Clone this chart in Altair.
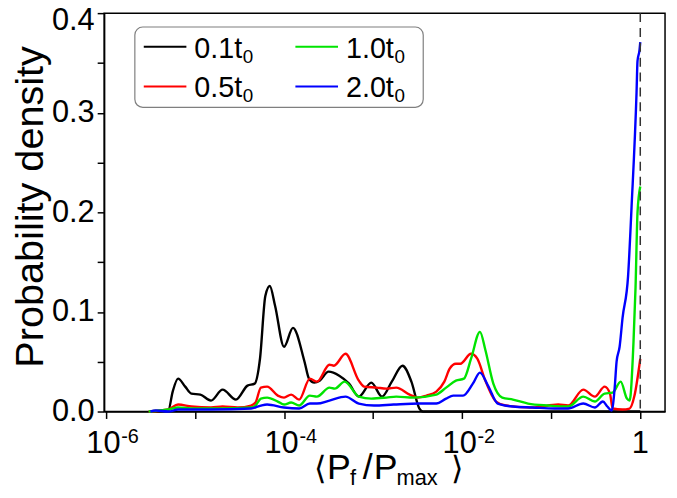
import altair as alt
import pandas as pd

FONT = "Liberation Sans"

series_values = ["0.1", "0.5", "1.0", "2.0"]
series_names = [v + "t₀" for v in series_values]
series_colors = ["#000000", "#ff0000", "#00e400", "#0000ff"]

# x values are log10(<Pf/Pmax>), y values are probability density
black_logx = [-5.50, -5.30, -5.25, -5.19, -5.11, -5.04, -4.94, -4.82, -4.69, -4.54, -4.41, -4.33,
              -4.27, -4.21, -4.16, -4.10, -4.00, -3.90, -3.77, -3.72, -3.66, -3.60, -3.50, -3.38,
              -3.27, -3.16, -3.02, -2.90, -2.79, -2.67, -2.57, -2.48, -2.44, -1.5, -0.5, 0.0]
black_y = [0.0, 0.001, 0.020, 0.033, 0.025, 0.018, 0.017, 0.011, 0.022, 0.012, 0.026, 0.028,
           0.053, 0.116, 0.126, 0.106, 0.065, 0.084, 0.050, 0.033, 0.029, 0.031, 0.040, 0.036,
           0.028, 0.015, 0.029, 0.015, 0.030, 0.046, 0.030, 0.003, 0.0, 0.0, 0.0, 0.0]

red_logx = [-5.52, -5.30, -5.19, -5.04, -4.82, -4.69, -4.52, -4.37, -4.32, -4.26, -4.19, -4.07,
            -4.00, -3.92, -3.83, -3.71, -3.63, -3.49, -3.44, -3.31, -3.16, -3.10, -2.96, -2.85,
            -2.74, -2.59, -2.50, -2.40, -2.29, -2.20, -2.14, -2.07, -2.02, -1.90, -1.83, -1.74,
            -1.67, -1.62, -1.51, -1.21, -0.92, -0.81, -0.64, -0.51, -0.40, -0.34, -0.31, -0.20,
            -0.12, -0.065, 0.0]
red_y = [0.0, 0.002, 0.007, 0.005, 0.004, 0.005, 0.004, 0.006, 0.009, 0.024, 0.025, 0.016,
         0.014, 0.017, 0.012, 0.033, 0.030, 0.047, 0.046, 0.058, 0.031, 0.025, 0.024, 0.023,
         0.024, 0.017, 0.014, 0.016, 0.020, 0.030, 0.043, 0.048, 0.048, 0.058, 0.053, 0.031,
         0.017, 0.010, 0.006, 0.004, 0.007, 0.006, 0.022, 0.015, 0.025, 0.018, 0.003, 0.002,
         0.003, 0.016, 0.053]

green_logx = [-5.52, -5.30, -5.19, -5.04, -4.69, -4.37, -4.32, -4.26, -4.19, -4.07, -4.00, -3.92,
              -3.83, -3.71, -3.63, -3.49, -3.43, -3.32, -3.16, -3.02, -2.85, -2.74, -2.55, -2.29,
              -2.18, -2.07, -1.98, -1.90, -1.80, -1.74, -1.65, -1.55, -1.43, -1.26, -1.03, -0.81,
              -0.64, -0.51, -0.40, -0.31, -0.22, -0.15, -0.12, -0.109, -0.076, -0.053, -0.031, 0.0]
green_y = [0.0, 0.002, 0.004, 0.003, 0.003, 0.004, 0.006, 0.013, 0.014, 0.010, 0.007, 0.009,
           0.006, 0.016, 0.015, 0.024, 0.023, 0.030, 0.015, 0.013, 0.014, 0.015, 0.014, 0.017,
           0.024, 0.031, 0.033, 0.053, 0.080, 0.062, 0.028, 0.014, 0.012, 0.008, 0.006, 0.005,
           0.015, 0.010, 0.018, 0.019, 0.030, 0.013, 0.011, 0.016, 0.070, 0.125, 0.200, 0.226]

blue_logx = [-5.50, -5.44, -5.30, -5.19, -4.82, -4.37, -4.26, -4.19, -4.00, -3.83, -3.71, -3.63,
             -3.49, -3.31, -3.16, -2.99, -2.77, -2.48, -2.29, -2.18, -2.10, -1.99, -1.88, -1.80,
             -1.71, -1.60, -1.43, -1.21, -0.96, -0.81, -0.64, -0.51, -0.42, -0.37, -0.321, -0.288,
             -0.266, -0.232, -0.199, -0.137, -0.098, -0.042, -0.031, -0.01, 0.0]
blue_y = [0.0, 0.001, 0.0, 0.002, 0.002, 0.003, 0.006, 0.007, 0.004, 0.003, 0.008, 0.008,
          0.011, 0.015, 0.008, 0.006, 0.007, 0.008, 0.008, 0.013, 0.016, 0.016, 0.028, 0.039,
          0.026, 0.008, 0.005, 0.004, 0.003, 0.003, 0.008, 0.004, 0.010, 0.005, 0.001, 0.023,
          0.050, 0.065, 0.094, 0.136, 0.205, 0.320, 0.352, 0.362, 0.371]

x_tick_values = [1e-6, 1e-5, 1e-4, 1e-3, 1e-2, 1e-1, 1.0]
x_label_decades = [1e-6, 1e-4, 1e-2]
x_label_base = ["10", "10", "10"]
x_label_exponents = ["-6", "-4", "-2"]
x_label_one = [1.0]
y_tick_values = [0.0, 0.05, 0.1, 0.15, 0.2, 0.25, 0.3, 0.35, 0.4]
marker_x = [1.0]

rows = []
for name, lx, ys in zip(series_names,
                        [black_logx, red_logx, green_logx, blue_logx],
                        [black_y, red_y, green_y, blue_y]):
    for a, b in zip(lx, ys):
        rows.append({"x": 10 ** a, "y": b, "series": name})
df = pd.DataFrame(rows)

xscale = alt.Scale(type="log", domain=[10 ** -6.02, 10 ** 0.278], nice=False)
yscale = alt.Scale(domain=[0, 0.4], nice=False, zero=False)

y_label_expr = "abs(round(datum.value*10) - datum.value*10) < 0.01 ? format(datum.value, '.1f') : ''"

xaxis = alt.Axis(values=x_tick_values, labels=False, title=None,
                 tickSize=7, tickWidth=1.5, tickColor="black",
                 domainColor="black", domainWidth=1.5, grid=False)
yaxis = alt.Axis(values=y_tick_values, labelExpr=y_label_expr,
                 title="Probability density", titleFont=FONT, titleFontSize=40,
                 titleFontWeight="normal", titleColor="black",
                 titleX=-74, titleY=195, titleAngle=270, titleAlign="center",
                 titleBaseline="middle",
                 labelFont=FONT, labelFontSize=31, labelColor="black", labelPadding=3,
                 labelOffset={"condition": {"test": "datum.value > 0.39", "value": 8}, "value": 0},
                 tickSize=7, tickWidth=1.5, tickColor="black",
                 domainColor="black", domainWidth=1.5, grid=False)

lines = alt.Chart(df).mark_line(interpolate="monotone", strokeWidth=2.4).encode(
    x=alt.X("x:Q", scale=xscale, axis=xaxis),
    y=alt.Y("y:Q", scale=yscale, axis=yaxis),
    color=alt.Color("series:N", scale=alt.Scale(domain=series_names, range=series_colors),
                    legend=None),
)

rule = alt.Chart(pd.DataFrame({"x": marker_x})).mark_rule(
    strokeDash=[9, 6], strokeWidth=1.5, color="#333333"
).encode(x=alt.X("x:Q", scale=xscale, axis=xaxis))

label_df = pd.DataFrame({"x": x_label_decades, "base": x_label_base, "exp": x_label_exponents})
base_labels = alt.Chart(label_df).mark_text(
    font=FONT, fontSize=31, align="center", baseline="alphabetic", dx=-2.5, color="black"
).encode(x=alt.X("x:Q", scale=xscale, axis=xaxis), y=alt.value(444), text="base:N")
exp_labels = alt.Chart(label_df).mark_text(
    font=FONT, fontSize=20, align="left", baseline="alphabetic", dx=15.5, color="black"
).encode(x=alt.X("x:Q", scale=xscale, axis=xaxis), y=alt.value(434), text="exp:N")
one_label = alt.Chart(pd.DataFrame({"x": x_label_one, "t": ["1"]})).mark_text(
    font=FONT, fontSize=31, align="center", baseline="alphabetic", color="black"
).encode(x=alt.X("x:Q", scale=xscale, axis=xaxis), y=alt.value(444), text="t:N")

dummy = pd.DataFrame({"d": [0]})


def piece(s, x, y, size):
    return alt.Chart(dummy).mark_text(
        text=s, font=FONT, fontSize=size, align="left", baseline="alphabetic", color="black"
    ).encode(x=alt.value(x), y=alt.value(y))


title_parts = [
    piece("⟨", 212, 470, 32),
    piece("P", 225, 470, 36),
    piece("f", 248, 476, 22),
    piece("/", 261, 470, 36),
    piece("P", 272, 470, 36),
    piece("max", 295, 476, 22),
    piece("⟩", 350, 470, 32),
]

# hand-drawn legend (two columns, column-major like the original)
legend_box = alt.Chart(dummy).mark_rect(
    fill="white", stroke="#7f7f7f", strokeWidth=1.2, cornerRadius=8
).encode(x=alt.value(31), x2=alt.value(322), y=alt.value(14), y2=alt.value(95))

legend_parts = [legend_box]
for i, (val, col) in enumerate(zip(series_values, series_colors)):
    c, r = i // 2, i % 2
    x0 = 40 + c * 153
    yc = 34 + r * 40
    legend_parts.append(
        alt.Chart(dummy).mark_rule(color=col, strokeWidth=2).encode(
            x=alt.value(x0), x2=alt.value(x0 + 43), y=alt.value(yc))
    )
    legend_parts.append(piece(val + "t", x0 + 51, yc + 11, 29))
    legend_parts.append(piece("0", x0 + 100, yc + 16, 19))

chart = alt.layer(lines, rule, base_labels, exp_labels, one_label,
                  *title_parts, *legend_parts).properties(
    width=566, height=402,
    autosize=alt.AutoSizeParams(type="none"),
    padding={"left": 97, "top": 3, "right": 4, "bottom": 76},
).configure_view(stroke="black", strokeWidth=1.5)

chart.save("out.html", embed_options={"renderer": "svg", "actions": False})
